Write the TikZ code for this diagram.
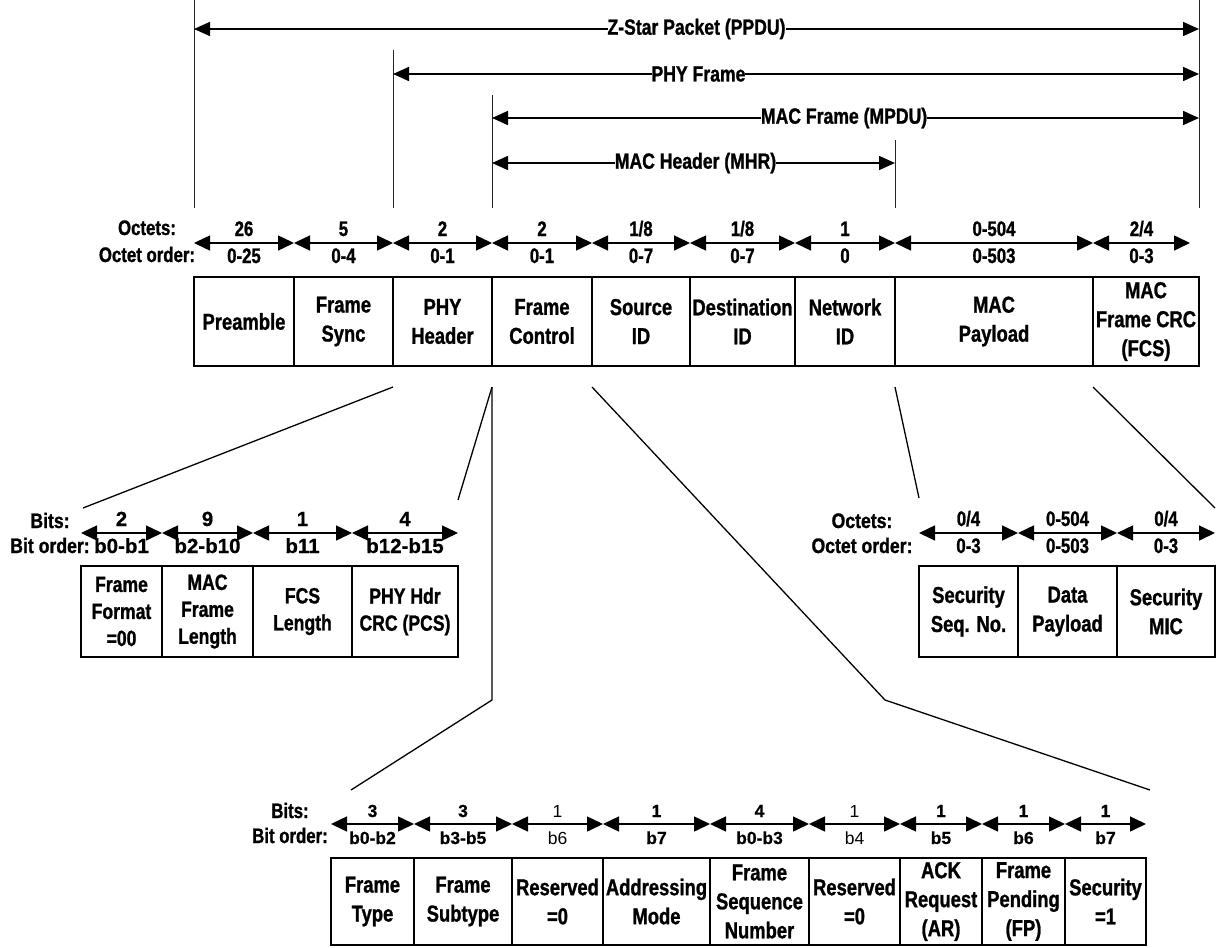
\documentclass[tikz,border=0pt]{standalone}
\usepackage{fontspec}
\setmainfont{Liberation Sans}
\newfontfamily\cnd{Liberation Sans}[FakeStretch=0.8,FakeBold=1.1]
\newfontfamily\cndw{Liberation Sans}[FakeStretch=0.84,FakeBold=1.1]
\newfontfamily\wide{Liberation Sans}[FakeBold=0.6]
\usetikzlibrary{arrows.meta}

% one field of a frame: name, left x, right x, centre y, height, text
\newcommand\field[7][]{%
  \node[cell,#1,minimum width={#4-#3},minimum height=#6] (#2) at ({(#3+#4)/2},#5) {#7};}
% size arrow above a field: field name, rise, size, order, extra style
\newcommand\sizeof[5][]{%
  \draw[dim] ([yshift=#3]#2.north west) -- ([yshift=#3]#2.north east)
    node[midway,numtxt,#1] {#4} node[midway,ordtxt,#1] {#5};}

\begin{document}
\begin{tikzpicture}[x=1pt,y=-1pt,
  cell/.style={draw,line width=2.5pt,inner sep=0pt,outer sep=0pt,align=center,
    font=\cnd\bfseries\fontsize{23}{29}\selectfont},
  smallcell/.style={font=\cnd\bfseries\fontsize{22}{27}\selectfont},
  dim/.style={line width=1.5pt,{Triangle[length=16pt,width=15pt]}-{Triangle[length=16pt,width=15pt]}},
  numtxt/.style={anchor=base,yshift=7pt,inner sep=0pt,font=\cnd\bfseries\fontsize{21}{24}\selectfont},
  ordtxt/.style={anchor=base,yshift=-20pt,inner sep=0pt,font=\cnd\bfseries\fontsize{21}{24}\selectfont},
  widenum/.style={font=\wide\bfseries\fontsize{20.5}{24}\selectfont},
  smallnum/.style={font=\wide\bfseries\fontsize{17.5}{22}\selectfont},
  plainnum/.style={font=\fontsize{17.5}{22}\selectfont},
  rowlbl/.style={anchor=base,inner sep=0pt,font=\cnd\bfseries\fontsize{21}{24}\selectfont},
  widelbl/.style={font=\cndw\bfseries\fontsize{21}{24}\selectfont},
  guide/.style={line width=1pt,black!85},
  span/.style={line width=1.6pt,{Triangle[length=16pt,width=14pt]}-{Triangle[length=16pt,width=14pt]}},
  spanlbl/.style={fill=white,inner xsep=0pt,inner ysep=1pt,font=\cnd\bfseries\fontsize{22}{24}\selectfont},
  link/.style={line width=1.3pt}]

\useasboundingbox (0,0) rectangle (1222,947);

% ---------- main frame ----------
\field{m1}{194}{294}{321.5}{89}{Preamble}
\field{m2}{294}{393}{321.5}{89}{Frame\\Sync}
\field{m3}{393}{492}{321.5}{89}{PHY\\Header}
\field{m4}{492}{592}{321.5}{89}{Frame\\Control}
\field{m5}{592}{690}{321.5}{89}{Source\\ID}
\field{m6}{690}{795}{321.5}{89}{Destination\\ID}
\field{m7}{795}{895}{321.5}{89}{Network\\ID}
\field{m8}{895}{1093}{321.5}{89}{MAC\\Payload}
\field{m9}{1093}{1199}{321.5}{89}{MAC\\Frame CRC\\(FCS)}

\sizeof{m1}{34pt}{26}{0-25}
\sizeof{m2}{34pt}{5}{0-4}
\sizeof{m3}{34pt}{2}{0-1}
\sizeof{m4}{34pt}{2}{0-1}
\sizeof{m5}{34pt}{1/8}{0-7}
\sizeof{m6}{34pt}{1/8}{0-7}
\sizeof{m7}{34pt}{1}{0}
\sizeof{m8}{34pt}{0-504}{0-503}
% the last size arrow stops a little short of the frame edge
\draw[dim] ([yshift=34pt]m9.north west) -- ([xshift=-9pt,yshift=34pt]m9.north east)
  node[midway,numtxt] {2/4} node[midway,ordtxt] {0-3};

\node[rowlbl] (mo) at (147,235) {Octets:};
\node[rowlbl] (mor) at (147,262) {Octet order:};

% ---------- extent lines and spans ----------
\draw[guide] (m1.north west |- 0,0) -- (m1.north west |- 0,208);
\draw[guide] (m3.north west |- 0,50) -- (m3.north west |- 0,208);
\draw[guide] (m4.north west |- 0,95) -- (m4.north west |- 0,208);
\draw[guide] (m8.north west |- 0,140) -- (m8.north west |- 0,208);
\draw[guide] (m9.north east |- 0,0) -- (m9.north east |- 0,208);

\draw[span] (m1.north west |- 0,29) -- (m9.north east |- 0,29)
  node[spanlbl,pos=0.5] (s1) {Z-Star Packet (PPDU)};
\draw[span] (m3.north west |- 0,74) -- (m9.north east |- 0,74)
  node[spanlbl,pos=0.379] (s2) {PHY Frame};
\draw[span] (m4.north west |- 0,118) -- (m9.north east |- 0,118)
  node[spanlbl,pos=0.498] (s3) {MAC Frame (MPDU)};
\draw[span] (m4.north west |- 0,163) -- (m8.north west |- 0,163)
  node[spanlbl,pos=0.505] (s4) {MAC Header (MHR)};

% ---------- PHY header ----------
\field[smallcell]{p1}{81}{162}{611.5}{91}{Frame\\Format\\=00}
\field[smallcell]{p2}{162}{253}{611.5}{91}{MAC\\Frame\\Length}
\field[smallcell]{p3}{253}{352}{611.5}{91}{FCS\\Length}
\field[smallcell]{p4}{352}{458}{611.5}{91}{PHY Hdr\\CRC (PCS)}

\sizeof[widenum]{p1}{33pt}{2}{b0-b1}
\sizeof[widenum]{p2}{33pt}{9}{b2-b10}
\sizeof[widenum]{p3}{33pt}{1}{b11}
\sizeof[widenum]{p4}{33pt}{4}{b12-b15}

\node[rowlbl,widelbl] (po) at (50,528) {Bits:};
\node[rowlbl,widelbl] (por) at (50,553) {Bit order:};

% ---------- MAC payload ----------
\field{r1}{919}{1018}{611.5}{91}{Security\\Seq. No.}
\field{r2}{1018}{1117}{611.5}{91}{Data\\Payload}
\field{r3}{1117}{1215}{611.5}{91}{Security\\MIC}

\sizeof{r1}{33pt}{0/4}{0-3}
\sizeof{r2}{33pt}{0-504}{0-503}
\sizeof{r3}{33pt}{0/4}{0-3}

\node[rowlbl,widelbl] (ro) at (862,528) {Octets:};
\node[rowlbl,widelbl] (ror) at (862,553) {Octet order:};

% ---------- frame control ----------
\field{q1}{331}{414}{901.5}{87}{Frame\\Type}
\field{q2}{414}{512}{901.5}{87}{Frame\\Subtype}
\field{q3}{512}{603}{901.5}{87}{Reserved\\=0}
\field{q4}{603}{710}{901.5}{87}{Addressing\\Mode}
\field{q5}{710}{809}{901.5}{87}{Frame\\Sequence\\Number}
\field{q6}{809}{900}{901.5}{87}{Reserved\\=0}
\field{q7}{900}{982}{901.5}{87}{ACK\\Request\\(AR)}
\field{q8}{982}{1065}{901.5}{87}{Frame\\Pending\\(FP)}
\field{q9}{1065}{1146}{901.5}{87}{Security\\=1}

\sizeof[smallnum]{q1}{34pt}{3}{b0-b2}
\sizeof[smallnum]{q2}{34pt}{3}{b3-b5}
\sizeof[plainnum]{q3}{34pt}{1}{b6}
\sizeof[smallnum]{q4}{34pt}{1}{b7}
\sizeof[smallnum]{q5}{34pt}{4}{b0-b3}
\sizeof[plainnum]{q6}{34pt}{1}{b4}
\sizeof[smallnum]{q7}{34pt}{1}{b5}
\sizeof[smallnum]{q8}{34pt}{1}{b6}
\sizeof[smallnum]{q9}{34pt}{1}{b7}

\node[rowlbl] (qo) at (290,818) {Bits:};
\node[rowlbl] (qor) at (290,843) {Bit order:};

% ---------- expansion lines ----------
\coordinate (bend) at (885,700);
\draw[link] ([yshift=-21pt]m3.south west) -- ([xshift=2pt,yshift=58pt]p1.north west);
\draw[link] ([yshift=-21pt]m3.south east) -- ([yshift=66pt]p4.north east);
\draw[link] ([yshift=-21pt]m4.south west) -- (m4.south west |- bend)
  -- ([xshift=20pt,yshift=68pt]q1.north west);
\draw[link] ([yshift=-21pt]m4.south east) -- (bend)
  -- ([xshift=4pt,yshift=68pt]q9.north east);
\draw[link] ([yshift=-21pt]m8.south west) -- ([yshift=68pt]r1.north west);
\draw[link] ([yshift=-21pt]m9.south west) -- ([yshift=58pt]r3.north east);
\end{tikzpicture}
\end{document}
